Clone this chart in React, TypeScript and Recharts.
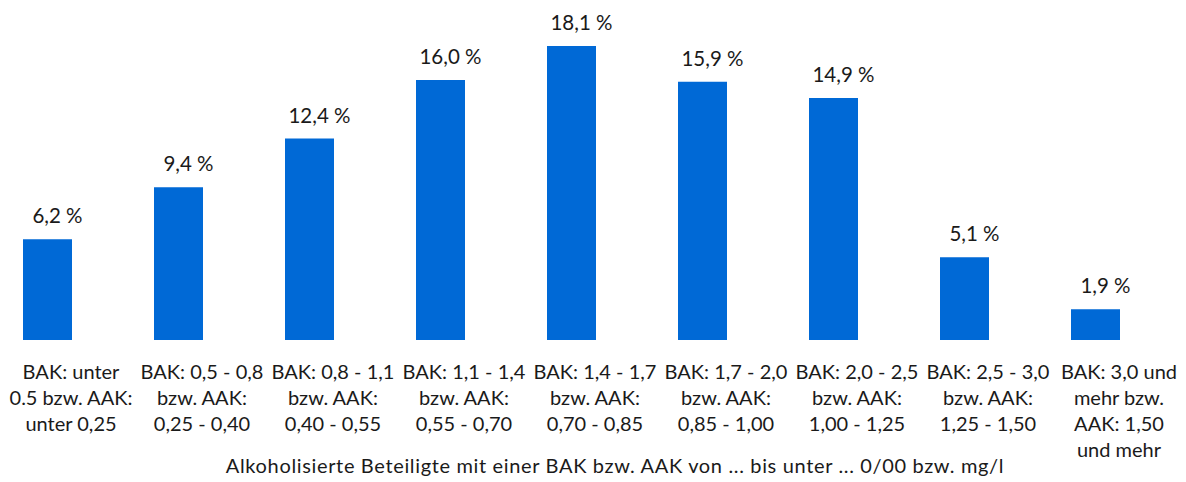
import { BarChart, Bar, XAxis, YAxis, LabelList, Label } from 'recharts';

// BAK/AAK classes, line breaks as in the original axis
const categories = [
  'BAK: unter\n0.5 bzw. AAK:\nunter 0,25',
  'BAK: 0,5 - 0,8\nbzw. AAK:\n0,25 - 0,40',
  'BAK: 0,8 - 1,1\nbzw. AAK:\n0,40 - 0,55',
  'BAK: 1,1 - 1,4\nbzw. AAK:\n0,55 - 0,70',
  'BAK: 1,4 - 1,7\nbzw. AAK:\n0,70 - 0,85',
  'BAK: 1,7 - 2,0\nbzw. AAK:\n0,85 - 1,00',
  'BAK: 2,0 - 2,5\nbzw. AAK:\n1,00 - 1,25',
  'BAK: 2,5 - 3,0\nbzw. AAK:\n1,25 - 1,50',
  'BAK: 3,0 und\nmehr bzw.\nAAK: 1,50\nund mehr',
];
const shares = [6.2, 9.4, 12.4, 16.0, 18.1, 15.9, 14.9, 5.1, 1.9];
const axisTitle =
  'Alkoholisierte Beteiligte mit einer BAK bzw. AAK von ... bis unter ... 0/00 bzw. mg/l';

const data = categories.map((name, i) => ({ name, value: shares[i] }));

const FONT = 'Lato, "Noto Sans", sans-serif';
const TEXT = '#1a1a1a';
const BLUE = '#0069d6';

const fmt = (v: number) => v.toFixed(1).replace('.', ',') + ' %';

function Tick({ x, y, payload }: any) {
  const lines = String(payload.value).split('\n');
  return (
    <text
      x={x + 23.5}
      y={y + 39}
      textAnchor="middle"
      fontFamily={FONT}
      fontSize={20}
      fill={TEXT}
    >
      {lines.map((l, i) => (
        <tspan key={i} x={x + 23.5} dy={i === 0 ? 0 : 26}>
          {l}
        </tspan>
      ))}
    </text>
  );
}

function ValueLabel({ x, y, width, value }: any) {
  return (
    <text
      x={x + width / 2 + 10}
      y={y - 16}
      textAnchor="middle"
      fontFamily={FONT}
      fontSize={20.5}
      fill={TEXT}
    >
      {fmt(value)}
    </text>
  );
}

export default function App() {
  return (
    <div style={{ marginLeft: -26, marginTop: -8, width: 1204, height: 482 }}>
      <BarChart
        width={1204}
        height={482}
        data={data}
        margin={{ top: 15, right: 25, bottom: 12, left: 0 }}
      >
        <XAxis
          dataKey="name"
          interval={0}
          axisLine={false}
          tickLine={false}
          tickSize={0}
          tickMargin={0}
          height={130}
          tick={<Tick />}
        >
          <Label
            content={({ viewBox }: any) => (
              <text
                x={viewBox.x + viewBox.width / 2 + 43.5}
                y={viewBox.y + 133}
                textAnchor="middle"
                fontFamily={FONT}
                fontSize={20}
                letterSpacing={0.65}
                fill={TEXT}
              >
                {axisTitle}
              </text>
            )}
          />
        </XAxis>
        <YAxis hide domain={[0, 20]} />
        <Bar dataKey="value" fill={BLUE} barSize={49} isAnimationActive={false}>
          <LabelList dataKey="value" content={<ValueLabel />} />
        </Bar>
      </BarChart>
    </div>
  );
}
